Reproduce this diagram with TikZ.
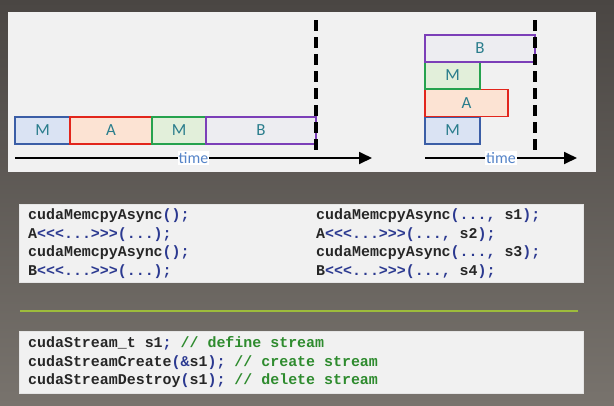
\documentclass[tikz,border=0pt]{standalone}
\usepackage{fontspec}
\setmainfont{Carlito}
\newfontfamily\codefont{Liberation Mono}
\usetikzlibrary{arrows.meta}

\definecolor{slidetop}{HTML}{4A4643}
\definecolor{slidebot}{HTML}{78736D}
\definecolor{panel}{HTML}{F1F1F1}
\definecolor{labteal}{HTML}{2A7D8C}
\definecolor{timeblue}{HTML}{5584C8}
\definecolor{mblue}{HTML}{3B5EA6}
\definecolor{mbluefill}{HTML}{DAE3F3}
\definecolor{ared}{HTML}{E2261C}
\definecolor{aredfill}{HTML}{FCE3D3}
\definecolor{mgreen}{HTML}{26A24E}
\definecolor{mgreenfill}{HTML}{E2EFDA}
\definecolor{bpurple}{HTML}{7C3FB8}
\definecolor{bpurplefill}{HTML}{EDEDF1}
\definecolor{rulegreen}{HTML}{9DBB3C}
\definecolor{punct}{HTML}{2B3990}
\definecolor{comment}{HTML}{2E8B2E}

\newcommand{\pn}[1]{\textcolor{punct}{#1}}
\newcommand{\cm}[1]{\textcolor{comment}{#1}}

\begin{document}
\begin{tikzpicture}[x=1bp,y=-1bp,
	blk/.style={draw,line width=1.6bp,inner sep=0pt,minimum height=27bp,
		text=labteal,font=\fontsize{17}{17}\selectfont},
	mb/.style={blk,draw=mblue,fill=mbluefill},
	ab/.style={blk,draw=ared,fill=aredfill},
	gb/.style={blk,draw=mgreen,fill=mgreenfill},
	pb/.style={blk,draw=bpurple,fill=bpurplefill},
	timeline/.style={line width=1.8bp,-{Triangle[length=13bp,width=12bp]}},
	timelbl/.style={fill=white,inner sep=1bp,text=timeblue,font=\fontsize{16}{16}\selectfont},
	barrier/.style={line width=3.6bp,dash pattern=on 11bp off 6bp},
	codebox/.style={fill=panel,draw=white!80!gray,line width=0.6bp},
	code/.style={anchor=base west,inner sep=0pt,text=black!85,
		font=\codefont\bfseries\fontsize{15}{15}\selectfont}]

	% background and panels
	\fill[top color=slidetop,bottom color=slidebot] (0,0) rectangle (614,405);
	\fill[panel] (8,12) rectangle (596,172);
	\fill[codebox] (19,204) rectangle (583,282);
	\fill[codebox] (19,331) rectangle (583,393);
	\draw[rulegreen,line width=2bp] (20,311) -- (578,311);

	% serial version
	\node[mb,minimum width=55bp]  (m1) at (42.5,130.5) {M};
	\node[ab,minimum width=82bp]  (a1) at (111,130.5)  {A};
	\node[gb,minimum width=54bp]  (m2) at (179,130.5)  {M};
	\node[pb,minimum width=110bp] (b1) at (261,130.5)  {B};

	% streams version
	\node[mb,minimum width=55bp]  (m3) at (452.5,130.5) {M};
	\node[ab,minimum width=83bp]  (a2) at (466.5,103)   {A};
	\node[gb,minimum width=55bp]  (m4) at (452.5,75.5)  {M};
	\node[pb,minimum width=110bp] (b2) at (480,48.5)    {B};

	\coordinate (t1s) at (15,158);
	\coordinate (t1e) at (372,158);
	\coordinate (t2s) at (425,158);
	\coordinate (t2e) at (577,158);
	\draw[timeline] (t1s) -- node[timelbl] {time} (t1e);
	\draw[timeline] (t2s) -- node[timelbl] {time} (t2e);

	\coordinate (d1t) at (316,20);
	\coordinate (d1b) at (316,150);
	\coordinate (d2t) at (535,20);
	\coordinate (d2b) at (535,150);
	\draw[barrier] (d1t) -- (d1b);
	\draw[barrier] (d2t) -- (d2b);

	% code
	\node[code] (c1) at (28,219.5) {cudaMemcpyAsync\pn{();}};
	\node[code] (c2) at (28,238)   {A\pn{<<<...>>>(...);}};
	\node[code] (c3) at (28,256.5) {cudaMemcpyAsync\pn{();}};
	\node[code] (c4) at (28,275)   {B\pn{<<<...>>>(...);}};
	\foreach \i/\k in {1/cudaMemcpyAsync,2/A\pn{<<<...>>>},3/cudaMemcpyAsync,4/B\pn{<<<...>>>}} {
		\node[code] (s\i) at (316,{201+18.5*\i}) {\k\pn{(..., }s\i\pn{);}};
	}

	\node[code] (e1) at (28,347.5) {cudaStream\_t s1\pn{;} \cm{// define stream}};
	\node[code] (e2) at (28,366)   {cudaStreamCreate\pn{(\&}s1\pn{);} \cm{// create stream}};
	\node[code] (e3) at (28,384.5) {cudaStreamDestroy\pn{(}s1\pn{);} \cm{// delete stream}};
\end{tikzpicture}
\end{document}
